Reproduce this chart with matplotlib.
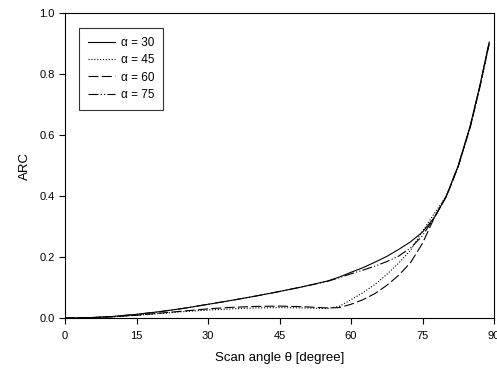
import matplotlib
matplotlib.use("Agg")
import matplotlib.pyplot as plt

plt.rcParams['font.family'] = ['Liberation Sans', 'DejaVu Sans']

# ---- data ----
theta = [0, 5, 10, 15, 20, 25, 30, 35, 40, 45, 50, 55, 57.5, 60, 62.5, 65,
         67.5, 70, 72.5, 75, 77.5, 80, 82.5, 85, 87, 89]
arc_30 = [0, 0.001, 0.005, 0.012, 0.021, 0.032, 0.045, 0.058, 0.072, 0.087,
          0.103, 0.121, 0.134, 0.150, 0.165, 0.183, 0.202, 0.225, 0.250,
          0.282, 0.330, 0.400, 0.500, 0.630, 0.760, 0.905]
arc_45 = [0, 0.001, 0.004, 0.009, 0.015, 0.021, 0.026, 0.030, 0.033, 0.034,
          0.033, 0.031, 0.038, 0.060, 0.083, 0.110, 0.143, 0.180, 0.222,
          0.285, 0.343, 0.400, 0.497, 0.625, 0.755, 0.900]
arc_60 = [0, 0.001, 0.004, 0.009, 0.016, 0.023, 0.030, 0.035, 0.038, 0.039,
          0.037, 0.033, 0.034, 0.045, 0.060, 0.080, 0.107, 0.140, 0.182,
          0.245, 0.330, 0.398, 0.497, 0.625, 0.755, 0.900]
arc_75 = [0, 0.001, 0.005, 0.012, 0.021, 0.032, 0.045, 0.058, 0.072, 0.087,
          0.103, 0.120, 0.132, 0.145, 0.157, 0.170, 0.185, 0.203, 0.230,
          0.270, 0.330, 0.400, 0.500, 0.628, 0.758, 0.905]

series = [
    (arc_30, 'α = 30', '-'),
    (arc_45, 'α = 45', (0, (1, 1.6))),
    (arc_60, 'α = 60', (0, (9, 3))),
    (arc_75, 'α = 75', (0, (9, 2, 1, 2, 1, 2))),
]

fig = plt.figure(figsize=(4.97, 3.74), dpi=100)
ax = fig.add_axes([0.1308, 0.1497, 0.8632, 0.8153])

for vals, lab, ls in series:
    ax.plot(theta, vals, color='black', lw=0.8, linestyle=ls, label=lab)

ax.set_xlim(0, 90)
ax.set_ylim(0, 1.0)
ax.set_xticks([0, 15, 30, 45, 60, 75, 90])
ax.set_yticks([0.0, 0.2, 0.4, 0.6, 0.8, 1.0])
ax.set_yticklabels(['0.0', '0.2', '0.4', '0.6', '0.8', '1.0'])
ax.tick_params(axis='x', pad=5)
ax.tick_params(direction='out', length=4, width=0.8, labelsize=8,
               top=False, right=False)
for s in ax.spines.values():
    s.set_linewidth(0.8)

ax.set_xlabel('Scan angle θ [degree]', fontsize=9.5, labelpad=8)
ax.set_ylabel('ARC', fontsize=9.5, labelpad=6)

leg = ax.legend(loc='upper left', bbox_to_anchor=(0.033, 0.951), fontsize=8.5,
                frameon=True, fancybox=False, edgecolor='black',
                handlelength=2.3, handletextpad=0.5, labelspacing=0.45,
                borderpad=0.75, borderaxespad=0)
leg.get_frame().set_linewidth(0.8)

fig.savefig('out.png', dpi=100)
